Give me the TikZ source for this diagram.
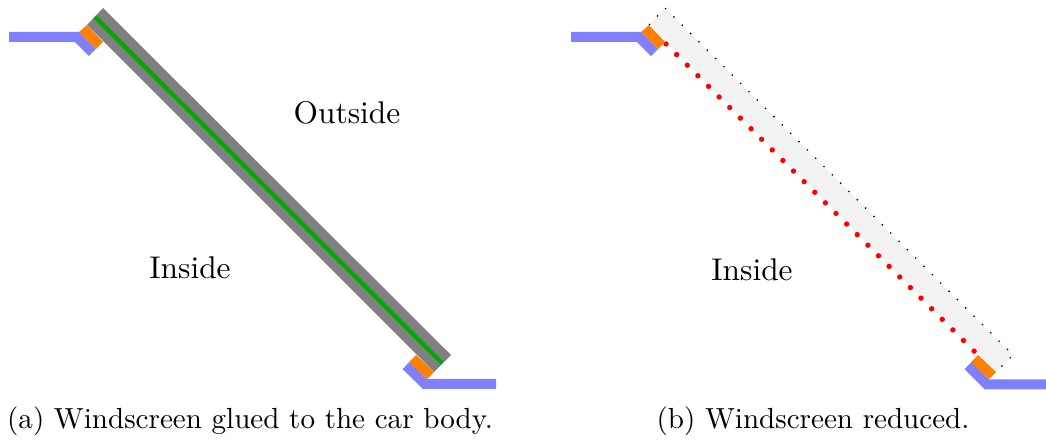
\documentclass[tikz,border=0pt]{standalone}
\usetikzlibrary{positioning}

\begin{document}
\begin{tikzpicture}[x=0.344pt, y=-0.344pt,
          bodyline/.style={draw=blue!50, line width=3.44pt, line join=miter},
          gluebox/.style={fill=orange},
          glassbox/.style={fill=black!50},
          glassreduced/.style={fill=black!5},
          edgeline/.style={draw=black, line width=0.45pt, dash pattern=on 0.45pt off 3.6pt},
          cutline/.style={draw=red, line width=1.85pt, line cap=round, dash pattern=on 0pt off 5.16pt},
          midline/.style={draw=green!67!black, line width=1.45pt},
          label/.style={font=\fontsize{10.8}{13}\selectfont},
          caption/.style={font=\normalsize}]

        \useasboundingbox (0,0) rectangle (1046,441);

        % left: windscreen
        \coordinate (g1) at (103,8);
        \coordinate (g2) at (451,355);
        \coordinate (g3) at (434,372);
        \coordinate (g4) at (87,25);
        \fill [glassbox] (g1) -- (g2) -- (g3) -- (g4) -- cycle;
        \coordinate (m1) at (95,17);
        \coordinate (m2) at (442,363);
        \draw [midline] (m1) -- (m2);
        \coordinate (ta) at (9,37);
        \coordinate (tb) at (77,37);
        \coordinate (tc) at (92.5,52.5);
        \draw [bodyline] (ta) -- (tb) -- (tc);
        \coordinate (ua) at (496,384);
        \coordinate (ub) at (425,384);
        \coordinate (uc) at (406,365.5);
        \draw [bodyline] (ua) -- (ub) -- (uc);
        \fill [gluebox] (79,32) -- (87,25) -- (103,42) -- (96,49) -- cycle;
        \fill [gluebox] (416,355) -- (409,362) -- (427,379) -- (434,372) -- cycle;

        \node [label] (out) at (347,113) {Outside};
        \node [label] (in1) at (190,268) {Inside};
        \node [caption] (cap1) at (250,421) {(a) Windscreen glued to the car body.};

        % right: windscreen reduced
        \coordinate (r1) at (665,8);
        \coordinate (r2) at (1013,355);
        \coordinate (r3) at (996,372);
        \coordinate (r4) at (649,25);
        \fill [glassreduced] (r1) -- (r2) -- (r3) -- (r4) -- cycle;
        \draw [edgeline] (r4) -- (r1) -- (r2) -- (r3);
        \coordinate (c1) at (666,44);
        \coordinate (c2) at (978,355);
        \draw [cutline] (c1) -- (c2);
        \coordinate (va) at (571,37);
        \coordinate (vb) at (639,37);
        \coordinate (vc) at (654.5,52.5);
        \draw [bodyline] (va) -- (vb) -- (vc);
        \coordinate (wa) at (1046,384.5);
        \coordinate (wb) at (987,384.5);
        \coordinate (wc) at (968,365.5);
        \draw [bodyline] (wa) -- (wb) -- (wc);
        \fill [gluebox] (641,32) -- (649,25) -- (665,42) -- (658,49) -- cycle;
        \fill [gluebox] (978,355) -- (971,362) -- (989,379) -- (996,372) -- cycle;

        \node [label] (in2) at (752,270) {Inside};
        \node [caption] (cap2) at (813,421) {(b) Windscreen reduced.};
      \end{tikzpicture}
\end{document}
